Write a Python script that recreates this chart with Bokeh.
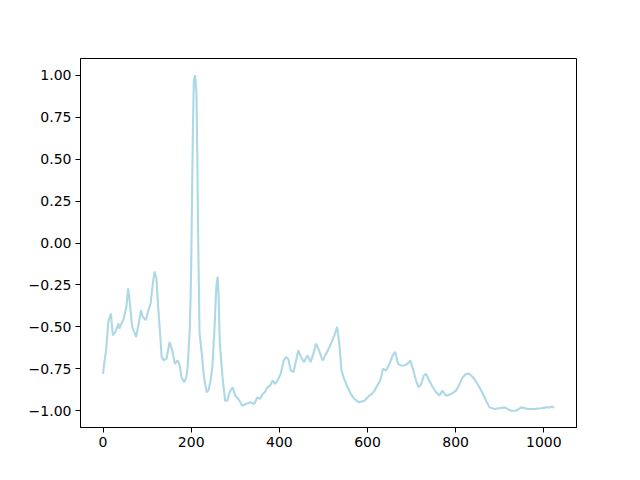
from bokeh.plotting import figure
from bokeh.models import Range1d, FixedTicker
from bokeh.embed import file_html
from bokeh.resources import INLINE

# sample index positions
xs = [0, 2, 7, 12, 18, 22, 28, 35, 37, 42, 47, 53, 57, 61, 66, 75, 81, 86, 90, 97,
      103, 108, 113, 117, 121, 125, 130, 133, 138, 144, 151, 157, 163, 169, 174, 178,
      184, 189, 192, 197, 200, 202, 204, 206, 209, 212, 214, 216, 219, 224, 229, 235,
      239, 244, 248, 253, 257, 260, 262, 265, 271, 277, 282, 287, 294, 300, 307, 316,
      324, 334, 343, 350, 356, 362, 367, 373, 379, 385, 390, 396, 403, 410, 415, 420,
      426, 432, 438, 443, 449, 456, 464, 471, 477, 483, 490, 498, 506, 512, 517, 525,
      531, 536, 541, 547, 555, 562, 570, 581, 593, 604, 610, 616, 622, 627, 631, 635,
      642, 650, 657, 663, 669, 676, 684, 691, 697, 703, 710, 716, 722, 728, 733, 740,
      748, 756, 763, 770, 778, 790, 801, 809, 816, 824, 831, 839, 847, 854, 862, 869,
      877, 888, 899, 911, 926, 937, 949, 964, 979, 994, 1005, 1013, 1020, 1023]

# normalised signal values
ys = [-0.78, -0.73, -0.64, -0.47, -0.42, -0.55, -0.53, -0.48, -0.51, -0.48, -0.45, -0.38,
      -0.27, -0.36, -0.50, -0.56, -0.48, -0.40, -0.44, -0.46, -0.40, -0.36, -0.24, -0.17,
      -0.21, -0.38, -0.56, -0.68, -0.70, -0.69, -0.59, -0.64, -0.72, -0.70, -0.73, -0.80,
      -0.83, -0.80, -0.74, -0.50, -0.15, 0.30, 0.69, 0.97, 1.00, 0.89, 0.49, -0.01,
      -0.54, -0.66, -0.80, -0.89, -0.88, -0.82, -0.74, -0.50, -0.26, -0.20, -0.30, -0.60,
      -0.80, -0.94, -0.94, -0.89, -0.86, -0.91, -0.93, -0.97, -0.96, -0.95, -0.96, -0.92,
      -0.93, -0.90, -0.89, -0.86, -0.85, -0.82, -0.84, -0.82, -0.78, -0.70, -0.68, -0.69,
      -0.76, -0.77, -0.70, -0.64, -0.68, -0.71, -0.67, -0.71, -0.66, -0.60, -0.64, -0.70,
      -0.66, -0.63, -0.60, -0.55, -0.50, -0.60, -0.76, -0.81, -0.86, -0.90, -0.93, -0.95,
      -0.94, -0.91, -0.90, -0.88, -0.85, -0.83, -0.80, -0.75, -0.76, -0.72, -0.67, -0.65,
      -0.72, -0.73, -0.73, -0.72, -0.70, -0.75, -0.82, -0.86, -0.84, -0.79, -0.78, -0.82,
      -0.86, -0.89, -0.91, -0.88, -0.91, -0.90, -0.88, -0.84, -0.80, -0.78, -0.78, -0.80,
      -0.83, -0.86, -0.90, -0.94, -0.98, -0.99, -0.985, -0.98, -1.00, -1.00, -0.98, -0.99,
      -0.99, -0.985, -0.98, -0.98, -0.975, -0.985]

x_ticks = [0, 200, 400, 600, 800, 1000]
y_ticks = [-1.0, -0.75, -0.5, -0.25, 0.0, 0.25, 0.5, 0.75, 1.0]
y_labels = ["\u22121.00", "\u22120.75", "\u22120.50", "\u22120.25", "0.00",
            "0.25", "0.50", "0.75", "1.00"]

p = figure(frame_width=496, frame_height=369, output_backend="svg",
           toolbar_location=None, min_border_left=80, min_border_right=64,
           min_border_top=58, min_border_bottom=53,
           x_range=Range1d(-51.15, 1074.15), y_range=Range1d(-1.1, 1.1))

p.line(xs, ys, line_color="#add8e6", line_width=2.1)

p.xgrid.visible = False
p.ygrid.visible = False
p.outline_line_color = "black"
p.outline_line_width = 1
p.outline_line_alpha = 1
p.background_fill_color = "white"
p.border_fill_color = "white"

p.xaxis.ticker = FixedTicker(ticks=x_ticks)
p.yaxis.ticker = FixedTicker(ticks=y_ticks)
p.yaxis.major_label_overrides = {t: l for t, l in zip(y_ticks, y_labels)}
for ax in (p.xaxis, p.yaxis):
    ax.axis_line_color = "black"
    ax.major_tick_in = 0
    ax.major_tick_out = 5
    ax.minor_tick_line_color = None
    ax.major_tick_line_color = "black"
    ax.major_label_text_font = "DejaVu Sans"
    ax.major_label_text_font_size = "14px"
    ax.major_label_text_color = "black"
    ax.major_label_standoff = 4

open("out.html", "w").write(file_html(p, INLINE))
